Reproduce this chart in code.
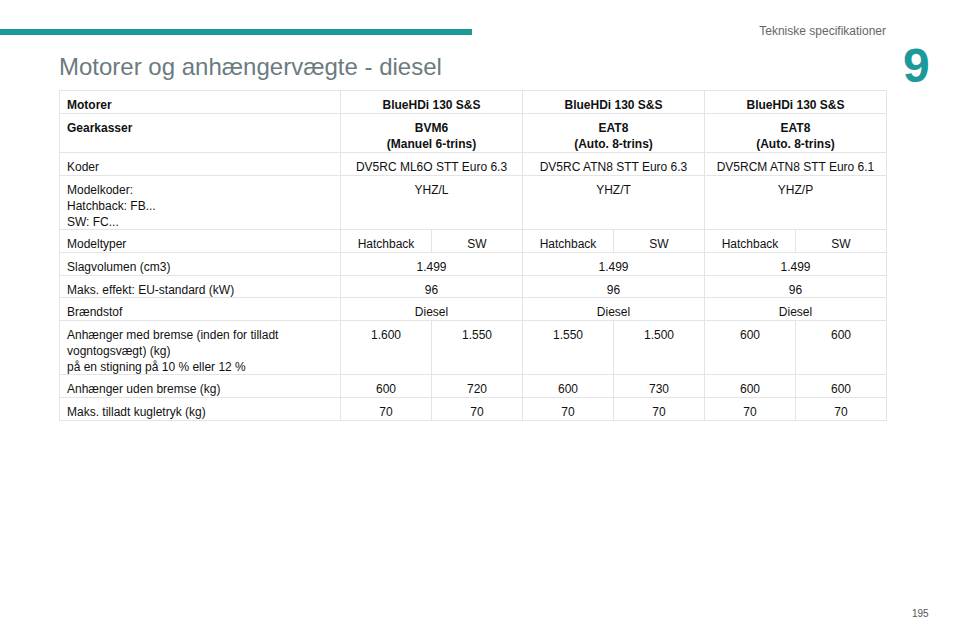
<!DOCTYPE html>
<html><head><meta charset="utf-8">
<script src="https://cdn.jsdelivr.net/npm/chart.js@4"></script>
<style>
body{margin:0;width:960px;height:640px;background:#fff;font-family:"Liberation Sans",Arial,sans-serif;position:relative;overflow:hidden;color:#111}
.a{position:absolute}
.c{position:absolute;box-sizing:border-box;font-size:12px;padding:6px 7px;border-right:1px solid #e4e4e4;border-bottom:1px solid #e4e4e4;line-height:16px}
.ctr{text-align:center}
.b{font-weight:bold}
</style></head><body>
<div class="a" style="left:0;top:29px;width:472px;height:6px;background:#1c9a9a"></div>
<div class="a" style="right:74px;top:24px;font-size:12px;color:#666">Tekniske specifikationer</div>
<div class="a" style="left:903px;top:38px;font-size:48px;font-weight:bold;color:#1c9a9a">9</div>
<div class="a" style="left:59px;top:53px;font-size:24px;color:#6b7b80">Motorer og anhængervægte - diesel</div>
<div class="a" style="left:912px;top:608px;font-size:10px;color:#555">195</div>
<div id="t" class="a" style="left:59px;top:90px;width:827px;height:330px;border-top:1px solid #e4e4e4;border-left:1px solid #e4e4e4"></div>
<script>
const rowLabels=["Motorer","Gearkasser","Koder","Modelkoder:<br>Hatchback: FB...<br>SW: FC...","Modeltyper","Slagvolumen (cm3)","Maks. effekt: EU-standard (kW)","Brændstof","Anhænger med bremse (inden for tilladt<br>vogntogsvægt) (kg)<br>på en stigning på 10 % eller 12 %","Anhænger uden bremse (kg)","Maks. tilladt kugletryk (kg)"];
const rowTops=[90,113,152,175,229,252,275,297,320,374,397,420];
const motorer=["BlueHDi 130 S&amp;S","BlueHDi 130 S&amp;S","BlueHDi 130 S&amp;S"];
const gearkasser=["BVM6<br>(Manuel 6-trins)","EAT8<br>(Auto. 8-trins)","EAT8<br>(Auto. 8-trins)"];
const koder=["DV5RC ML6O STT Euro 6.3","DV5RC ATN8 STT Euro 6.3","DV5RCM ATN8 STT Euro 6.1"];
const modelkoder=["YHZ/L","YHZ/T","YHZ/P"];
const modeltyper=["Hatchback","SW","Hatchback","SW","Hatchback","SW"];
const slagvolumen=["1.499","1.499","1.499"];
const effekt=["96","96","96"];
const braendstof=["Diesel","Diesel","Diesel"];
const medBremse=["1.600","1.550","1.550","1.500","600","600"];
const udenBremse=["600","720","600","730","600","600"];
const kugletryk=["70","70","70","70","70","70"];
const rows=[motorer,gearkasser,koder,modelkoder,modeltyper,slagvolumen,effekt,braendstof,medBremse,udenBremse,kugletryk];
const bold=[true,true];
const t=document.getElementById('t');
const X0=59,labW=281,grpW=182;
rows.forEach((vals,i)=>{
  const top=rowTops[i]-90, h=rowTops[i+1]-rowTops[i];
  const b=i<2?' b':'';
  let s=`<div class="c${b}" style="left:0;top:${top}px;width:${labW}px;height:${h}px">${rowLabels[i]}</div>`;
  const w=vals.length===3?grpW:grpW/2;
  vals.forEach((v,j)=>{s+=`<div class="c ctr${b}" style="left:${labW+j*w}px;top:${top}px;width:${w}px;height:${h}px">${v}</div>`;});
  t.insertAdjacentHTML('beforeend',s);
});
</script>
</body></html>
